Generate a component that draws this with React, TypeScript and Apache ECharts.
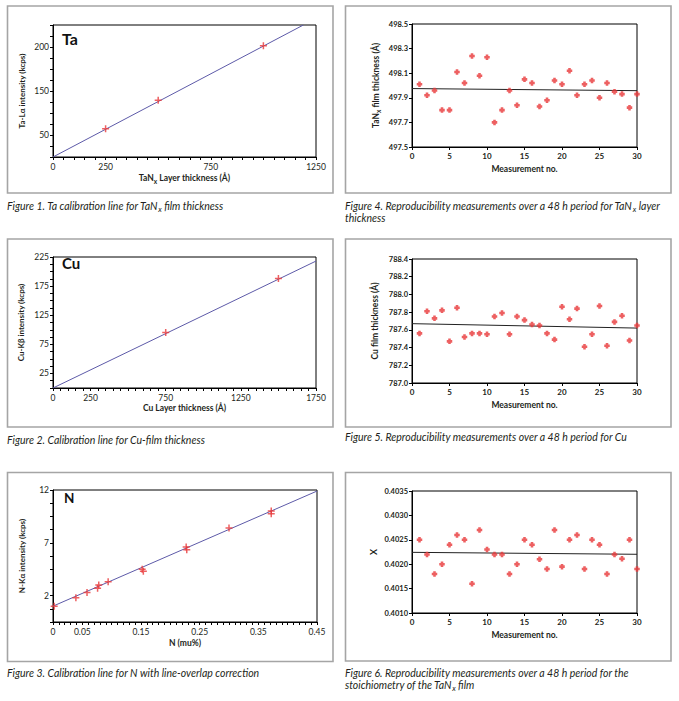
import React, { useEffect, useRef } from "react";
import * as echarts from "echarts";

const FONT = "Lato, 'Open Sans', sans-serif";
const TEXT = "#231f20";
const RED = "#e8383a";
const FIT = "#5d5aa8";
const FRAME = "#a5a5a5";

// Figure 1: Ta calibration
const TA_X = [250, 500, 1000];
const TA_Y = [107, 139.5, 201.5];
const TA_FIT_X = [0, 1190];
const TA_FIT_Y = [75, 225];
const TA_X_LABELS = [0, 250, 750, 1250];
const TA_Y_TICKS = [100, 150, 200];
const TA_Y_TICK_LABELS = ["50", "150", "200"];

// Figure 2: Cu calibration
const CU_X = [750, 1500];
const CU_Y = [95.5, 188];
const CU_FIT_X = [0, 1750];
const CU_FIT_Y = [0, 218];
const CU_X_LABELS = [0, 250, 750, 1250, 1750];
const CU_Y_LABELS = [25, 75, 125, 175, 225];

// Figure 3: N calibration
const N_X = [0.002, 0.039, 0.058, 0.076, 0.078, 0.094, 0.152, 0.154, 0.227, 0.228, 0.3, 0.372, 0.372];
const N_Y = [1.0, 1.8, 2.3, 2.7, 3.0, 3.3, 4.5, 4.3, 6.6, 6.35, 8.4, 10.0, 9.75];
const N_FIT_X = [0, 0.45];
const N_FIT_Y = [1.0, 11.9];
const N_X_LABELS = [0, 0.05, 0.15, 0.25, 0.35, 0.45];
const N_Y_LABELS = [2, 7, 12];

// Figures 4-6: reproducibility
const MEAS = [1, 2, 3, 4, 5, 6, 7, 8, 9, 10, 11, 12, 13, 14, 15, 16, 17, 18, 19, 20, 21, 22, 23, 24, 25, 26, 27, 28, 29, 30];
const TREND_X = [0, 30];
const TAN_THICK = [498.01, 497.92, 497.96, 497.8, 497.8, 498.11, 498.02, 498.24, 498.08, 498.23, 497.7, 497.8, 497.96, 497.84, 498.05, 498.02, 497.83, 497.88, 498.04, 498.01, 498.12, 497.92, 498.01, 498.04, 497.9, 498.02, 497.95, 497.93, 497.82, 497.93];
const TAN_TREND = [497.975, 497.958];
const CU_THICK = [787.56, 787.81, 787.73, 787.82, 787.47, 787.85, 787.52, 787.56, 787.56, 787.55, 787.75, 787.79, 787.55, 787.75, 787.71, 787.66, 787.65, 787.56, 787.49, 787.86, 787.72, 787.84, 787.41, 787.55, 787.87, 787.42, 787.69, 787.76, 787.48, 787.65];
const CU_TREND = [787.67, 787.62];
const X_STOICH = [0.4025, 0.4022, 0.4018, 0.402, 0.4024, 0.4026, 0.4025, 0.4016, 0.4027, 0.4023, 0.4022, 0.4022, 0.4018, 0.402, 0.4025, 0.4024, 0.4021, 0.4019, 0.4027, 0.40195, 0.4025, 0.4026, 0.4019, 0.4025, 0.4024, 0.4018, 0.4022, 0.40211, 0.4025, 0.4019];
const X_TREND = [0.402243, 0.402203];

const THIN_PLUS = "path://M2.75,0H4.25V2.75H7V4.25H4.25V7H2.75V4.25H0V2.75H2.75Z";
const THICK_PLUS = "path://M1.6,0H4.4V1.6H6V4.4H4.4V6H1.6V4.4H0V1.6H1.6Z";

const zip = (xs: number[], ys: number[], base = 0) => xs.map((x, i) => [x, ys[i] - base]);
const near = (a: number, b: number) => Math.abs(a - b) < 1e-7;

function pickLabel(ticks: number[], texts: string[], base = 0) {
  return (v: number) => {
    const real = v + base;
    const i = ticks.findIndex((t) => near(t, real));
    return i >= 0 ? texts[i] : "";
  };
}

const nameStyle = (size: number) => ({
  fontFamily: FONT,
  fontWeight: "bold",
  fontSize: size,
  color: TEXT,
  rich: { s: { fontSize: size - 2, fontWeight: "bold", padding: [6, 0, 0, 0], lineHeight: 5 } },
});

function axisBase(gi: number, min: number, max: number, interval: number, formatter: any, labelBold: boolean, labelSize: number, margin: number) {
  return {
    gridIndex: gi,
    type: "value",
    min,
    max,
    interval,
    axisLine: { show: true, onZero: false, lineStyle: { color: "#000", width: 1 } },
    axisTick: { show: true, inside: false, length: 3, lineStyle: { color: "#000", width: 1 } },
    splitLine: { show: false },
    axisLabel: {
      formatter,
      margin,
      fontSize: labelSize,
      fontFamily: FONT,
      fontWeight: labelBold ? "bold" : "normal",
      color: TEXT,
    },
  };
}

function buildOption() {
  const grids = [
    { left: 53, top: 25, width: 263, height: 132 },
    { left: 53, top: 257, width: 263, height: 131 },
    { left: 53, top: 490, width: 264, height: 132 },
    { left: 412, top: 24, width: 225, height: 123 },
    { left: 412, top: 259, width: 225, height: 124 },
    { left: 412, top: 491, width: 225, height: 122 },
  ].map((g) => ({ ...g, show: true, borderColor: "#000", borderWidth: 1, backgroundColor: "transparent", containLabel: false }));

  const intLabel = (labels: number[]) => pickLabel(labels, labels.map(String));
  const measLabel = (v: number) => String(v);

  const xAxis = [
    { ...axisBase(0, 0, 1250, 50, intLabel(TA_X_LABELS), false, 8.5, 5), name: "TaN{s|x} Layer thickness (Å)", nameLocation: "middle", nameGap: 16, nameTextStyle: nameStyle(8.5) },
    { ...axisBase(1, 0, 1750, 50, intLabel(CU_X_LABELS), false, 8.5, 5), name: "Cu Layer thickness (Å)", nameLocation: "middle", nameGap: 15, nameTextStyle: nameStyle(8.5) },
    { ...axisBase(2, 0, 0.45, 0.01, pickLabel(N_X_LABELS, N_X_LABELS.map((v) => (v === 0 ? "0" : v.toFixed(2)))), false, 8.5, 5), name: "N (mu%)", nameLocation: "middle", nameGap: 16, nameTextStyle: nameStyle(8.5) },
    { ...axisBase(3, 0, 30, 5, measLabel, true, 8, 5), name: "Measurement no.", nameLocation: "middle", nameGap: 17, nameTextStyle: nameStyle(8.5) },
    { ...axisBase(4, 0, 30, 5, measLabel, true, 8, 5), name: "Measurement no.", nameLocation: "middle", nameGap: 17, nameTextStyle: nameStyle(8.5) },
    { ...axisBase(5, 0, 30, 5, measLabel, true, 8, 5), name: "Measurement no.", nameLocation: "middle", nameGap: 17, nameTextStyle: nameStyle(8.5) },
  ];

  const yAxis = [
    { ...axisBase(0, 75, 225, 12.5, pickLabel(TA_Y_TICKS, TA_Y_TICK_LABELS), false, 8.5, 4), name: "Ta-Lα intensity (kcps)", nameLocation: "middle", nameGap: 27, nameTextStyle: nameStyle(8) },
    { ...axisBase(1, 0, 225, 12.5, intLabel(CU_Y_LABELS), false, 8.5, 4), name: "Cu-Kβ intensity (kcps)", nameLocation: "middle", nameGap: 28, nameTextStyle: nameStyle(8) },
    { ...axisBase(2, 0, 12.5, 1.25, pickLabel(N_Y_LABELS, N_Y_LABELS.map(String), -0.5), false, 8.5, 4), name: "N-Kα intensity (kcps)", nameLocation: "middle", nameGap: 27, nameTextStyle: nameStyle(8) },
    { ...axisBase(3, 0, 1.0, 0.2, (v: number) => (v + 497.5).toFixed(1), true, 7.5, 4), name: "TaN{s|x} film thickness (Å)", nameLocation: "middle", nameGap: 32, nameTextStyle: nameStyle(8.5) },
    { ...axisBase(4, 0, 1.4, 0.2, (v: number) => (v + 787.0).toFixed(1), true, 7.5, 4), name: "Cu film thickness (Å)", nameLocation: "middle", nameGap: 33, nameTextStyle: nameStyle(8.5) },
    { ...axisBase(5, 0, 0.0025, 0.0005, (v: number) => (v + 0.401).toFixed(4), true, 7.5, 4), name: "X", nameLocation: "middle", nameGap: 34, nameTextStyle: nameStyle(9) },
  ];

  const scatter = (i: number, xs: number[], ys: number[], base: number, thin: boolean) => ({
    type: "scatter",
    xAxisIndex: i,
    yAxisIndex: i,
    data: zip(xs, ys, base),
    symbol: thin ? THIN_PLUS : THICK_PLUS,
    symbolSize: thin ? 7 : 5.5,
    itemStyle: { color: RED },
    z: 3,
  });
  const line = (i: number, xs: number[], ys: number[], base: number, color: string) => ({
    type: "line",
    xAxisIndex: i,
    yAxisIndex: i,
    data: zip(xs, ys, base),
    symbol: "none",
    lineStyle: { color, width: 1 },
    z: 2,
  });

  const series = [
    line(0, TA_FIT_X, TA_FIT_Y, 0, FIT),
    scatter(0, TA_X, TA_Y, 0, true),
    line(1, CU_FIT_X, CU_FIT_Y, 0, FIT),
    scatter(1, CU_X, CU_Y, 0, true),
    line(2, N_FIT_X, N_FIT_Y, -0.5, FIT),
    scatter(2, N_X, N_Y, -0.5, true),
    line(3, TREND_X, TAN_TREND, 497.5, "#222"),
    scatter(3, MEAS, TAN_THICK, 497.5, false),
    line(4, TREND_X, CU_TREND, 787.0, "#222"),
    scatter(4, MEAS, CU_THICK, 787.0, false),
    line(5, TREND_X, X_TREND, 0.401, "#222"),
    scatter(5, MEAS, X_STOICH, 0.401, false),
  ];

  const CAP = 10.5;
  const capRich = {
    n: { fontFamily: FONT, fontStyle: "italic", fontSize: CAP, fill: TEXT, lineHeight: 12 },
    s: { fontFamily: FONT, fontStyle: "italic", fontSize: 7.5, fill: TEXT, lineHeight: 5, padding: [7, 0, 0, 0] },
  };
  const caption = (x: number, y: number, text: string) => ({
    type: "text",
    x,
    y,
    silent: true,
    style: { text, rich: capRich, fontFamily: FONT, fontStyle: "italic", fontSize: CAP, fill: TEXT, verticalAlign: "top", align: "left", lineHeight: 12 },
  });
  const frame = (x: number, y: number, w: number, h: number) => ({
    type: "rect",
    silent: true,
    shape: { x, y, width: w, height: h },
    style: { fill: "none", stroke: FRAME, lineWidth: 1.6 },
  });
  const tag = (x: number, y: number, text: string, size: number) => ({
    type: "text",
    x,
    y,
    silent: true,
    style: { text, fontFamily: FONT, fontWeight: "bold", fontSize: size, fill: "#111", verticalAlign: "middle", align: "left" },
  });

  const graphic = [
    frame(7.5, 6, 325.5, 187),
    frame(345.5, 6, 325.5, 187),
    frame(7.5, 239, 325.5, 188),
    frame(345.5, 239, 325.5, 188),
    frame(7.5, 472.5, 325.5, 189),
    frame(345.5, 472.5, 325.5, 188.5),
    tag(62, 38, "Ta", 16),
    tag(62, 263, "Cu", 15),
    tag(64, 497.5, "N", 13.5),
    caption(7, 199.5, "{n|Figure 1. Ta calibration line for TaN}{s|x}{n| film thickness}"),
    caption(345, 199.5, "{n|Figure 4. Reproducibility measurements over a 48 h period for TaN}{s|x}{n| layer}\n{n|thickness}"),
    caption(7, 434, "{n|Figure 2. Calibration line for Cu-film thickness}"),
    caption(345, 430.5, "{n|Figure 5. Reproducibility measurements over a 48 h period for Cu}"),
    caption(7, 666.5, "{n|Figure 3. Calibration line for N with line-overlap correction}"),
    caption(345, 666.5, "{n|Figure 6. Reproducibility measurements over a 48 h period for the}\n{n|stoichiometry of the TaN}{s|x}{n| film}"),
  ];

  return {
    animation: false,
    backgroundColor: "#fff",
    textStyle: { fontFamily: FONT },
    grid: grids,
    xAxis,
    yAxis,
    series,
    graphic,
  };
}

export default function App() {
  const ref = useRef<HTMLDivElement>(null);
  useEffect(() => {
    const chart = echarts.init(ref.current!, null, { renderer: "svg" });
    chart.setOption(buildOption() as any);
    return () => chart.dispose();
  }, []);
  return <div ref={ref} style={{ position: "absolute", left: 0, top: 0, width: 679, height: 701, background: "#fff" }} />;
}
